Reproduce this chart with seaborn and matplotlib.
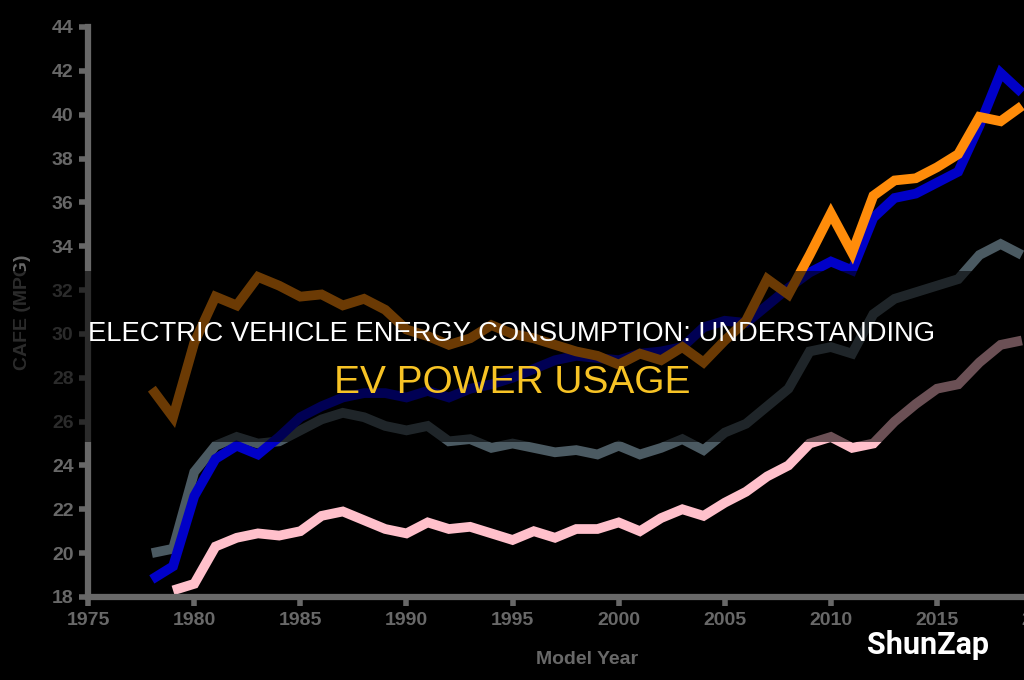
import numpy as np
import pandas as pd
import matplotlib
matplotlib.use("Agg")
import matplotlib.pyplot as plt
from matplotlib.patches import Rectangle
import seaborn as sns

# %%
years = list(range(1978, 2020))
years_pink = list(range(1979, 2020))

gray_mpg = [20.0, 20.2, 23.7, 24.9, 25.3, 25.0, 25.1, 25.6, 26.1, 26.4,
            26.2, 25.8, 25.6, 25.8, 25.1, 25.2, 24.8, 25.0, 24.8, 24.6,
            24.7, 24.5, 24.9, 24.5, 24.8, 25.2, 24.7, 25.5, 25.9, 26.7,
            27.5, 29.2, 29.4, 29.1, 30.9, 31.6, 31.9, 32.2, 32.5, 33.6,
            34.1, 33.6]
blue_mpg = [18.8, 19.4, 22.6, 24.3, 24.9, 24.5, 25.3, 26.2, 26.7, 27.1,
            27.3, 27.3, 27.1, 27.4, 27.1, 27.5, 27.7, 28.0, 28.4, 28.8,
            29.0, 28.9, 28.8, 29.1, 29.2, 29.4, 30.3, 30.6, 30.5, 31.3,
            32.1, 32.8, 33.3, 32.9, 35.3, 36.2, 36.4, 36.9, 37.4, 39.5,
            41.9, 41.0]
orange_mpg = [27.5, 26.2, 29.6, 31.7, 31.3, 32.6, 32.2, 31.7, 31.8, 31.3,
              31.6, 31.1, 30.2, 29.9, 29.5, 29.8, 30.4, 30.0, 29.8, 29.5,
              29.2, 29.0, 28.6, 29.1, 28.8, 29.4, 28.7, 29.7, 30.6, 32.5,
              31.8, 33.6, 35.5, 33.7, 36.3, 37.0, 37.1, 37.6, 38.2, 39.9,
              39.7, 40.4]
pink_mpg = [18.3, 18.6, 20.3, 20.7, 20.9, 20.8, 21.0, 21.7, 21.9, 21.5,
            21.1, 20.9, 21.4, 21.1, 21.2, 20.9, 20.6, 21.0, 20.7, 21.1,
            21.1, 21.4, 21.0, 21.6, 22.0, 21.7, 22.3, 22.8, 23.5, 24.0,
            25.0, 25.3, 24.8, 25.0, 26.0, 26.8, 27.5, 27.7, 28.7, 29.5,
            29.7]

y_ticks = list(range(18, 46, 2))
x_ticks = list(range(1975, 2025, 5))

palette = {"All": "#4b5a62", "Truck": "#ffc0cb",
           "Car": "#0000c8", "Car SUV": "#ff8c0a"}

df = pd.concat([
    pd.DataFrame({"year": years, "mpg": gray_mpg, "series": "All"}),
    pd.DataFrame({"year": years_pink, "mpg": pink_mpg, "series": "Truck"}),
    pd.DataFrame({"year": years, "mpg": blue_mpg, "series": "Car"}),
    pd.DataFrame({"year": years, "mpg": orange_mpg, "series": "Car SUV"}),
])

# %%
sns.set_style("ticks")
axis_gray = "#686868"
plt.rcParams.update({
    "axes.facecolor": "black",
    "figure.facecolor": "black",
    "axes.edgecolor": axis_gray,
    "xtick.color": axis_gray,
    "ytick.color": axis_gray,
    "font.family": ["Liberation Sans", "DejaVu Sans"],
})

fig = plt.figure(figsize=(10.24, 6.8), dpi=100)
ax = fig.add_axes([0.0861, 0.1221, 0.974, 0.8382])

g = sns.lineplot(data=df, x="year", y="mpg", hue="series", palette=palette,
                 hue_order=["All", "Truck", "Car", "Car SUV"],
                 linewidth=7, legend=False, ax=ax)
for line in ax.lines:
    line.set_solid_joinstyle("miter")
    line.set_solid_capstyle("butt")

ax.set_xlim(1975, 2022)
ax.set_ylim(18, 44)
ax.set_xticks(x_ticks)
ax.set_yticks(y_ticks)
ax.tick_params(axis="both", length=6.5, width=4, labelsize=14, pad=4)
for lab in ax.get_xticklabels() + ax.get_yticklabels():
    lab.set_fontweight("bold")
    lab.set_color(axis_gray)
sns.despine(ax=ax)
for side in ["left", "bottom"]:
    ax.spines[side].set_linewidth(4.5)
ax.set_xlabel("Model Year", fontsize=14, fontweight="bold", color=axis_gray,
              labelpad=16)
ax.set_ylabel("CAFE (MPG)", fontsize=14, fontweight="bold", color=axis_gray,
              labelpad=15)

# dark banner with the headline
fig.patches.append(Rectangle((0, 0.35), 1, 0.2515, transform=fig.transFigure,
                             facecolor="black", edgecolor="none",
                             linewidth=0, alpha=0.58, zorder=5))
fig.text(0.5, 0.509, "ELECTRIC VEHICLE ENERGY CONSUMPTION: UNDERSTANDING",
         ha="center", va="center", color="white", fontsize=19.7, zorder=6)
fig.text(0.5, 0.437, "EV POWER USAGE", ha="center", va="center",
         color="#f7c325", fontsize=28, zorder=6)
fig.text(0.906, 0.052, "ShunZap", ha="center", va="center", color="white",
         fontsize=22, fontweight="bold", family=["Roboto", "DejaVu Sans"],
         zorder=6)

plt.savefig("out.png", dpi=100, facecolor="black")
plt.close()
